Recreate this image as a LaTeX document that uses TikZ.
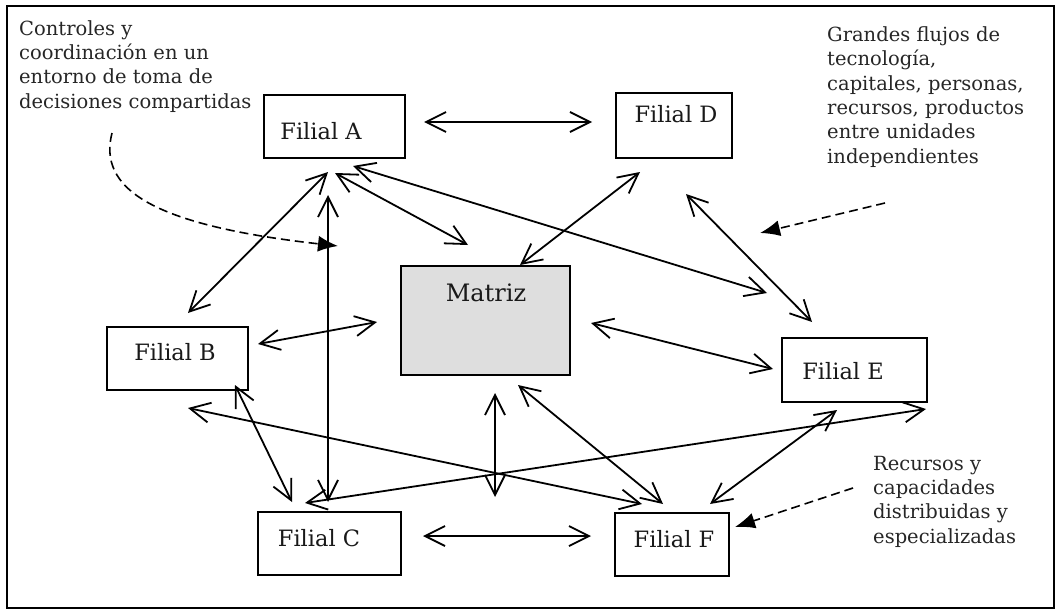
\documentclass[tikz,border=0pt]{standalone}
\usepackage{fontspec}
\setmainfont{DejaVu Serif}
\usetikzlibrary{arrows.meta,calc}

\begin{document}
\begin{tikzpicture}[x=1pt,y=-1pt,
  box/.style={draw, line width=1.6pt, inner sep=0pt, anchor=north west},
  lbl/.style={font=\fontsize{22.5}{26}\selectfont, anchor=base, inner sep=0pt, text=black!90},
  % multi-line notes are placed by the baseline of their last line
  note/.style={font=\fontsize{19.5}{24.3}\selectfont, align=left, anchor=base west, inner sep=0pt, text=black!85},
  flow/.style={line width=1.8pt, {Straight Barb[length=20pt,width=20pt]}-{Straight Barb[length=20pt,width=20pt]}},
  hint/.style={line width=1.6pt, dash pattern=on 9pt off 5pt, -{Latex[length=20pt,width=16pt]}}
]
\useasboundingbox (0,0) rectangle (1059,610);
% outer frame
\node[draw, line width=2pt, inner sep=0pt, anchor=north west, minimum width=1047pt, minimum height=602pt] (frame) at (6,5) {};

% units
\node[box, minimum width=141pt, minimum height=63pt] (fA) at (263,94) {};
\node[box, minimum width=116pt, minimum height=65pt] (fD) at (615,92) {};
\node[box, minimum width=141pt, minimum height=63pt] (fB) at (106,326) {};
\node[box, minimum width=145pt, minimum height=64pt] (fE) at (781,337) {};
\node[box, minimum width=143pt, minimum height=63pt] (fC) at (257,511) {};
\node[box, minimum width=114pt, minimum height=63pt] (fF) at (614,512) {};
\node[box, fill=black!13, line width=1.8pt, minimum width=169pt, minimum height=109pt] (mat) at (400,265) {};

\node[lbl] (tA) at (321,139) {Filial A};
\node[lbl] (tD) at (676,122) {Filial D};
\node[lbl] (tB) at (175,360) {Filial B};
\node[lbl] (tE) at (843,379) {Filial E};
\node[lbl] (tC) at (319,546) {Filial C};
\node[lbl] (tF) at (674,547) {Filial F};
\node[lbl, font=\fontsize{24}{28}\selectfont] (tM) at (486,301) {Matriz};

% annotations
\node[note] (n1) at (19,108) {Controles y\\coordinación en un\\entorno de toma de\\decisiones compartidas};
\node[note] (n2) at (827,163) {Grandes flujos de\\tecnología,\\capitales, personas,\\recursos, productos\\entre unidades\\independientes};
\node[note] (n3) at (873,543) {Recursos y\\capacidades\\distribuidas y\\especializadas};

% connector ends
\coordinate (aD1) at (424,122);   \coordinate (aD2) at (592,122);
\coordinate (cF1) at (423,536);   \coordinate (cF2) at (591,536);
\coordinate (hubA) at (328,172);  \coordinate (bTop) at (188,313);
\coordinate (aM1) at (335,173);   \coordinate (aM2) at (468,245);
\coordinate (aE1) at (353,166);   \coordinate (aE2) at (767,293);
\coordinate (aC1) at (328,195);   \coordinate (aC2) at (328,502);
\coordinate (bM1) at (258,344);   \coordinate (bM2) at (377,322);
\coordinate (mD1) at (520,265);   \coordinate (mD2) at (640,172);
\coordinate (dE1) at (686,194);   \coordinate (dE2) at (812,322);
\coordinate (mE1) at (591,323);   \coordinate (mE2) at (773,369);
\coordinate (mB1) at (495,393);   \coordinate (mB2) at (495,497);
\coordinate (mF1) at (518,385);   \coordinate (mF2) at (663,504);
\coordinate (bC1) at (235,385);   \coordinate (bC2) at (292,502);
\coordinate (bF1) at (188,408);   \coordinate (bF2) at (642,504);
\coordinate (cE1) at (305,503);   \coordinate (cE2) at (926,409);
\coordinate (fE1) at (710,504);   \coordinate (fE2) at (837,410);

% flows between units
\draw[flow] (aD1) -- (aD2);
\draw[flow] (cF1) -- (cF2);
\draw[flow] (hubA) -- (bTop);
\draw[flow] (aM1) -- (aM2);
\draw[flow] (aE1) -- (aE2);
\draw[flow] (aC1) -- (aC2);
\draw[flow] (bM1) -- (bM2);
\draw[flow] (mD1) -- (mD2);
\draw[flow] (dE1) -- (dE2);
\draw[flow] (mE1) -- (mE2);
\draw[flow] (mB1) -- (mB2);
\draw[flow] (mF1) -- (mF2);
\draw[flow] (bC1) -- (bC2);
\draw[flow] (bF1) -- (bF2);
\draw[flow] (cE1) -- (cE2);
\draw[flow] (fE1) -- (fE2);

% pointers from the notes
\coordinate (h1s) at (112,133); \coordinate (h1e) at (338,246);
\coordinate (h2s) at (885,203); \coordinate (h2e) at (760,233);
\coordinate (h3s) at (853,488); \coordinate (h3e) at (735,527);
\draw[hint] (h1s) .. controls (98,188) and (150,225) .. (h1e);
\draw[hint] (h2s) -- (h2e);
\draw[hint] (h3s) -- (h3e);
\end{tikzpicture}
\end{document}
